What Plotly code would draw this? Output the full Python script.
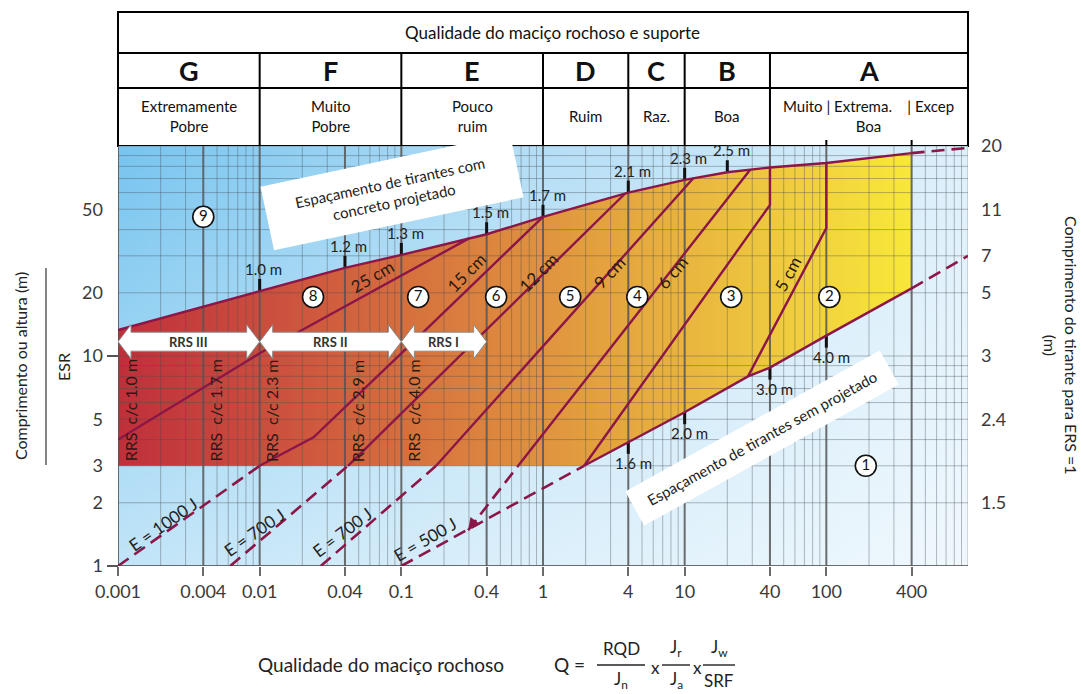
import math
import plotly.graph_objects as go

lg = math.log10

# ---------------- chart data ----------------
class_edges = [0.001, 0.01, 0.1, 1, 4, 10, 40, 1000]
class_letters = ["G", "F", "E", "D", "C", "B", "A"]
class_names = ["Extremamente<br>Pobre", "Muito<br>Pobre", "Pouco<br>ruim", "Ruim",
               "Raz.", "Boa", "Muito | Extrema.\u00a0\u00a0\u00a0 | Excep<br>Boa"]
class_a_marks = [100, 400]

q_ticks = [0.001, 0.004, 0.01, 0.04, 0.1, 0.4, 1, 4, 10, 40, 100, 400]
q_ticktext = ["0.001", "0.004", "0.01", "0.04", "0.1", "0.4", "1", "4", "10", "40", "100", "400"]
span_ticks = [1, 2, 3, 5, 10, 20, 50]
bolt_len_at = [2, 5, 10, 20, 30, 50, 100]
bolt_len_text = ["1.5", "2.4", "3", "5", "7", "11", "20"]

# bolt spacing in shotcreted area (upper limit of the support region)
upper_q = [0.001, 0.01, 0.04, 0.1, 0.4, 1, 4, 10, 20, 40, 100, 400]
upper_s = [13.3, 20.4, 26.3, 30.3, 38.0, 46.0, 60.0, 69.0, 75.0, 79.0, 83.0, 92.5]
upper_ext_q = [400, 1000]
upper_ext_s = [92.5, 98.0]
shot_bolt_q = [0.01, 0.04, 0.1, 0.4, 1, 4, 10, 20]
shot_bolt_s = [20.4, 26.3, 30.3, 38.0, 46.0, 60.0, 69.0, 75.0]
shot_bolt_text = ["1.0 m", "1.2 m", "1.3 m", "1.5 m", "1.7 m", "2.1 m", "2.3 m", "2.5 m"]

# bolt spacing in unshotcreted area (lower limit)
lower_q = [1.95, 4, 10, 28, 40, 100, 400]
lower_s = [3.0, 3.9, 5.4, 8.0, 8.8, 12.5, 21.0]
lower_ext_low_q = [0.1, 1.95]
lower_ext_low_s = [1.0, 3.0]
lower_ext_high_q = [400, 1000]
lower_ext_high_s = [21.0, 30.0]
bolt_q = [4, 10, 40, 100]
bolt_s = [3.9, 5.4, 8.8, 12.5]
bolt_text = ["1.6 m", "2.0 m", "3.0 m", "4.0 m"]

floor_span = 3.0   # bottom of the shotcrete region

# shotcrete thickness boundaries
t25_q, t25_s = [0.001, 0.01, 0.3], [4.0, 10.3, 36.3]
t15_q, t15_s = [0.01, 0.024, 0.1, 1.0], [3.0, 4.1, 10.3, 46.0]
t12_q, t12_s = [0.042, 0.84, 3.8], [3.0, 21.8, 59.4]
t9_q, t9_s = [0.176, 2.45, 11.5], [3.0, 21.8, 70.2]
t6_q, t6_s = [0.668, 6.73, 29.0], [3.0, 21.8, 77.1]
t4_q, t4_s = [40, 40, 1.95], [79.0, 52.4, 3.0]
t5_q, t5_s = [100, 100, 28.0], [83.0, 40.7, 8.0]

# energy absorption extrapolations below the shotcrete region
e1000_q, e1000_s = [0.001, 0.01], [1.0, 3.0]
e700a_q, e700a_s = [0.0062, 0.042], [1.0, 3.0]
e700b_q, e700b_s = [0.027, 0.176], [1.0, 3.0]
e500_q, e500_s = [0.296, 0.668], [1.48, 3.0]
e_text = ["E = 1000 J", "E = 700 J", "E = 700 J", "E = 500 J"]
e_text_q = [0.00208, 0.00913, 0.0382, 0.147]
e_text_s = [1.57, 1.44, 1.44, 1.33]
e_text_angle = [-35, -35, -37, -30]

thick_text = ["25 cm", "15 cm", "12 cm", "9 cm", "6 cm", "5 cm"]
thick_text_q = [0.0622, 0.287, 0.925, 2.93, 8.17, 53.9]
thick_text_s = [24.0, 25.1, 25.1, 25.1, 25.1, 24.6]
thick_text_angle = [-30, -45, -45, -46, -50, -62]

# reinforced ribs of sprayed concrete
rrs_text = ["RRS III", "RRS II", "RRS I"]
rrs_from = [0.001, 0.01, 0.1]
rrs_to = [0.01, 0.1, 0.4]
rrs_span = 11.7
rrs_cc_q = [0.001, 0.004, 0.01, 0.04, 0.1]
rrs_cc_text = ["RRS\u00a0 c/c 1.0 m", "RRS\u00a0 c/c 1.7 m", "RRS\u00a0 c/c 2.3 m",
               "RRS\u00a0 c/c 2.9 m", "RRS\u00a0 c/c 4.0 m"]

# support categories
cat_text = ["9", "8", "7", "6", "5", "4", "3", "2", "1"]
cat_q = [0.004, 0.0238, 0.1315, 0.467, 1.556, 4.63, 21.3, 105, 190]
cat_s = [46.0, 19.1, 19.1, 19.1, 19.1, 19.1, 19.1, 19.1, 3.0]

# ---------------- layout constants ----------------
W, H = 1083, 694
ML, MR, MT, MB = 118, 115, 146, 128
PW, PH = W - ML - MR, H - MT - MB
XPD = PW / 6.0     # pixels per decade of Q
YPD = PH / 2.0     # pixels per decade of span
MAROON = "#8b1648"
FONT = "Lato, 'Open Sans', sans-serif"
TXT = "#333333"
DASH = "13px,7px"


def qpx(q, px):
    return q * 10 ** (px / XPD)


def spx(s, py):
    return s * 10 ** (py / YPD)


def xpaper(q):
    return (lg(q) + 3) / 6.0


def xpix(px):
    return (px - ML) / PW


def ypix(py):
    return (H - MB - py) / PH


fig = go.Figure()

# background wash
rect_q = [0.001, 1000, 1000, 0.001, 0.001]
rect_s = [1, 1, 100, 100, 1]
fig.add_trace(go.Scatter(
    x=rect_q, y=rect_s, mode="none", fill="toself", hoverinfo="skip",
    fillgradient=dict(type="horizontal",
                      colorscale=[[0, "rgb(118,196,239)"], [0.45, "rgb(176,220,245)"],
                                  [1, "rgb(222,240,251)"]])))
fig.add_trace(go.Scatter(
    x=rect_q, y=rect_s, mode="none", fill="toself", hoverinfo="skip",
    fillgradient=dict(type="vertical",
                      colorscale=[[0, "rgba(255,255,255,0.55)"], [1, "rgba(255,255,255,0)"]])))

# support region
poly_q = upper_q + lower_q[::-1] + [0.001, 0.001]
poly_s = upper_s + lower_s[::-1] + [floor_span, upper_s[0]]
fig.add_trace(go.Scatter(
    x=poly_q, y=poly_s, mode="none", fill="toself", hoverinfo="skip",
    fillgradient=dict(type="horizontal",
                      colorscale=[[0, "#bf2f3b"], [0.2, "#cc503e"], [0.4, "#d8773e"],
                                  [0.6, "#e3a03f"], [0.8, "#edc43f"], [1, "#f8e83a"]])))

# grid
minor_x, major_x = [], []
for e in range(-3, 3):
    for m in range(1, 10):
        (major_x if m in (1, 4) else minor_x).append(m * 10 ** e)
minor_x.append(1000)
hor = [m * 10 ** e for e in range(0, 2) for m in range(1, 10)] + [100]


def vlines(vals):
    xs, ys = [], []
    for v in vals:
        xs += [v, v, None]
        ys += [1, 100, None]
    return xs, ys


def hlines(vals):
    xs, ys = [], []
    for v in vals:
        xs += [0.001, 1000, None]
        ys += [v, v, None]
    return xs, ys


gx, gy = vlines(minor_x)
fig.add_trace(go.Scatter(x=gx, y=gy, mode="lines", hoverinfo="skip",
                         line=dict(color="rgba(70,75,85,0.38)", width=1)))
gx, gy = hlines(hor[1:])
fig.add_trace(go.Scatter(x=gx, y=gy, mode="lines", hoverinfo="skip",
                         line=dict(color="rgba(70,75,85,0.38)", width=1)))
gx, gy = vlines(major_x)
fig.add_trace(go.Scatter(x=gx, y=gy, mode="lines", hoverinfo="skip",
                         line=dict(color="rgba(85,85,85,0.85)", width=2)))
gx, gy = hlines([1])
fig.add_trace(go.Scatter(x=gx, y=gy, mode="lines", hoverinfo="skip",
                         line=dict(color="rgba(85,85,85,0.85)", width=2)))

# bolt spacing tick marks
tx, ty = [], []
for q, s in zip(shot_bolt_q, shot_bolt_s):
    tx += [q, q, None]
    ty += [s, spx(s, 12), None]
for q, s in zip(bolt_q, bolt_s):
    tx += [q, q, None]
    ty += [s, spx(s, -12), None]
fig.add_trace(go.Scatter(x=tx, y=ty, mode="lines", hoverinfo="skip",
                         line=dict(color="#111111", width=3)))


def add_line(q, s, dash=None, width=2.4):
    fig.add_trace(go.Scatter(x=q, y=s, mode="lines", hoverinfo="skip",
                             line=dict(color=MAROON, width=width, dash=dash)))


for q, s in [(upper_q, upper_s), (lower_q, lower_s), (t25_q, t25_s), (t15_q, t15_s),
             (t12_q, t12_s), (t9_q, t9_s), (t6_q, t6_s), (t4_q, t4_s), (t5_q, t5_s)]:
    add_line(q, s)
for q, s in [(upper_ext_q, upper_ext_s), (lower_ext_low_q, lower_ext_low_s),
             (lower_ext_high_q, lower_ext_high_s), (e1000_q, e1000_s),
             (e700a_q, e700a_s), (e700b_q, e700b_s), (e500_q, e500_s)]:
    add_line(q, s, dash=DASH, width=2.6)

# RRS arrows
HEAD, BODY, WING = 13, 9.5, 17
for q0, q1 in zip(rrs_from, rrs_to):
    s = rrs_span
    ax_q = [q0, qpx(q0, HEAD), qpx(q0, HEAD), qpx(q1, -HEAD), qpx(q1, -HEAD), q1,
            qpx(q1, -HEAD), qpx(q1, -HEAD), qpx(q0, HEAD), qpx(q0, HEAD), q0]
    ax_s = [s, spx(s, WING), spx(s, BODY), spx(s, BODY), spx(s, WING), s,
            spx(s, -WING), spx(s, -BODY), spx(s, -BODY), spx(s, -WING), s]
    fig.add_trace(go.Scatter(x=ax_q, y=ax_s, mode="lines", fill="toself",
                             fillcolor="white", hoverinfo="skip",
                             line=dict(color="#8a8a8a", width=1)))

# category markers
fig.add_trace(go.Scatter(
    x=cat_q, y=cat_s, mode="markers+text", text=cat_text, hoverinfo="skip",
    textposition="middle center",
    textfont=dict(family=FONT, size=15, color="#111111"),
    marker=dict(size=21, color="white", line=dict(color="#111111", width=1.6))))

# invisible trace carrying the right-hand axis
fig.add_trace(go.Scatter(x=[1], y=[1], yaxis="y2", mode="markers",
                         marker=dict(opacity=0), hoverinfo="skip"))

ann = []
shapes = []


def ptext(px, py, text, size, angle=0, color="#222", **kw):
    d = dict(xref="paper", yref="paper", x=xpix(px), y=ypix(py), text=text,
             showarrow=False, xanchor="center", yanchor="middle", textangle=angle,
             font=dict(family=FONT, size=size, color=color))
    d.update(kw)
    ann.append(d)


# boundary spacing labels
for q, s, t in zip(shot_bolt_q, shot_bolt_s, shot_bolt_text):
    ann.append(dict(x=lg(q), y=lg(s), text=t, showarrow=False, xshift=4, yshift=22,
                    font=dict(family=FONT, size=15, color="#222")))
for q, s, t in zip(bolt_q, bolt_s, bolt_text):
    ann.append(dict(x=lg(q), y=lg(s), text=t, showarrow=False, xshift=5, yshift=-21,
                    font=dict(family=FONT, size=15, color="#222")))

for q, s, t, a in zip(thick_text_q, thick_text_s, thick_text, thick_text_angle):
    ann.append(dict(x=lg(q), y=lg(s), text=t, showarrow=False, textangle=a,
                    font=dict(family=FONT, size=17, color="#2a1a12")))
for q, s, t, a in zip(e_text_q, e_text_s, e_text, e_text_angle):
    ann.append(dict(x=lg(q), y=lg(s), text=t, showarrow=False, textangle=a,
                    font=dict(family=FONT, size=17, color="#222")))
for q0, q1, t in zip(rrs_from, rrs_to, rrs_text):
    ann.append(dict(x=(lg(q0) + lg(q1)) / 2, y=lg(rrs_span), text="<b>" + t + "</b>",
                    showarrow=False, font=dict(family=FONT, size=13, color="#333")))
for q, t in zip(rrs_cc_q, rrs_cc_text):
    ann.append(dict(x=lg(q), y=lg(floor_span), text=t, showarrow=False, textangle=-90,
                    xanchor="left", yanchor="bottom", xshift=1, yshift=2,
                    font=dict(family=FONT, size=16, color="#2a1a12")))

# arrow for the 500 J label
ann.append(dict(x=lg(e500_q[0]), y=lg(e500_s[0]), ax=9, ay=-12, text=" ", showarrow=True,
                arrowhead=2, arrowsize=1.2, arrowwidth=2, arrowcolor=MAROON))

# text boxes
ptext(392, 192, "Espaçamento de tirantes com<br>concreto projetado", 15, angle=-12,
      bgcolor="white", width=246, height=56, borderpad=4)
ptext(762, 438, "Espaçamento de tirantes sem projetado", 15, angle=-29,
      bgcolor="white", width=286, height=34, borderpad=2)

# axis titles
ptext(20, 366, "Comprimento ou altura (m)", 16, angle=-90)
ptext(63, 367, "ESR", 16, angle=-90)
shapes.append(dict(type="line", xref="paper", yref="paper", x0=xpix(46), x1=xpix(46),
                   y0=ypix(268), y1=ypix(465), line=dict(color="#333", width=1.2)))
ptext(1061, 345, "Comprimento do tirante para ERS =1<br>(m)", 16, angle=90)
for sv in [1, 10]:
    shapes.append(dict(type="line", xref="paper", yref="paper", x0=-11 / PW, x1=0,
                       y0=lg(sv) / 2, y1=lg(sv) / 2, line=dict(color="#555", width=2)))

# header table
top, r1, r2, bot = ypix(12), ypix(53), ypix(88), 1.0
shapes.append(dict(type="rect", xref="paper", yref="paper", x0=0, x1=1, y0=bot, y1=top,
                   line=dict(color="black", width=2), fillcolor="white", layer="below"))
for yy in (r1, r2):
    shapes.append(dict(type="line", xref="paper", yref="paper", x0=0, x1=1, y0=yy, y1=yy,
                       line=dict(color="black", width=2)))
for q in class_edges[1:-1]:
    shapes.append(dict(type="line", xref="paper", yref="paper", x0=xpaper(q), x1=xpaper(q),
                       y0=bot, y1=r1, line=dict(color="black", width=2)))
for q in class_a_marks:
    shapes.append(dict(type="line", xref="paper", yref="paper", x0=xpaper(q), x1=xpaper(q),
                       y0=bot, y1=ypix(140), line=dict(color="black", width=2)))
ptext(552, 32, "Qualidade do maciço rochoso e suporte", 17, color="#111")
for i, (l, n) in enumerate(zip(class_letters, class_names)):
    xc = (xpaper(class_edges[i]) + xpaper(class_edges[i + 1])) / 2
    ann.append(dict(xref="paper", yref="paper", x=xc, y=(r1 + r2) / 2, text="<b>" + l + "</b>",
                    showarrow=False, xanchor="center", yanchor="middle",
                    font=dict(family=FONT, size=27, color="#111")))
    ann.append(dict(xref="paper", yref="paper", x=xc, y=ypix(116), text=n,
                    showarrow=False, xanchor="center", yanchor="middle",
                    font=dict(family=FONT, size=15, color="#111")))

# Q formula
ptext(381, 664, "Qualidade do maciço rochoso", 19)
ptext(569, 664, "Q =", 19)
fracs = [("RQD", "J<sub>n</sub>", 621, 24), ("J<sub>r</sub>", "J<sub>a</sub>", 676, 14),
         ("J<sub>w</sub>", "SRF", 719, 16)]
for num, den, cx, hw in fracs:
    ptext(cx, 648, num, 17)
    ptext(cx, 680, den, 17)
    shapes.append(dict(type="line", xref="paper", yref="paper", x0=xpix(cx - hw),
                       x1=xpix(cx + hw), y0=ypix(665), y1=ypix(665),
                       line=dict(color="#222", width=1.4)))
for cx in (655, 697):
    ptext(cx, 667, "x", 17)

fig.update_layout(
    width=W, height=H, autosize=False,
    margin=dict(l=ML, r=MR, t=MT, b=MB, pad=0),
    paper_bgcolor="white", plot_bgcolor="white",
    showlegend=False, hovermode=False,
    font=dict(family=FONT, color=TXT),
    xaxis=dict(type="log", range=[-3, 3], showgrid=False, zeroline=False, showline=False,
               tickvals=q_ticks, ticktext=q_ticktext, ticks="outside", ticklen=9,
               tickwidth=2, tickcolor="#6b6b6b",
               tickfont=dict(family=FONT, size=18, color="#3a3a3a")),
    yaxis=dict(type="log", range=[0, 2], showgrid=False, zeroline=False, showline=False,
               tickvals=span_ticks, ticktext=[str(v) for v in span_ticks], ticks="",
               ticklabelstandoff=14, tickfont=dict(family=FONT, size=18, color="#3a3a3a")),
    yaxis2=dict(type="log", range=[0, 2], overlaying="y", side="right", showgrid=False,
                zeroline=False, showline=False, tickvals=bolt_len_at, ticktext=bolt_len_text,
                ticks="", ticklabelstandoff=12,
                tickfont=dict(family=FONT, size=18, color="#3a3a3a")),
    annotations=ann, shapes=shapes,
)

fig.write_html("out.html")
